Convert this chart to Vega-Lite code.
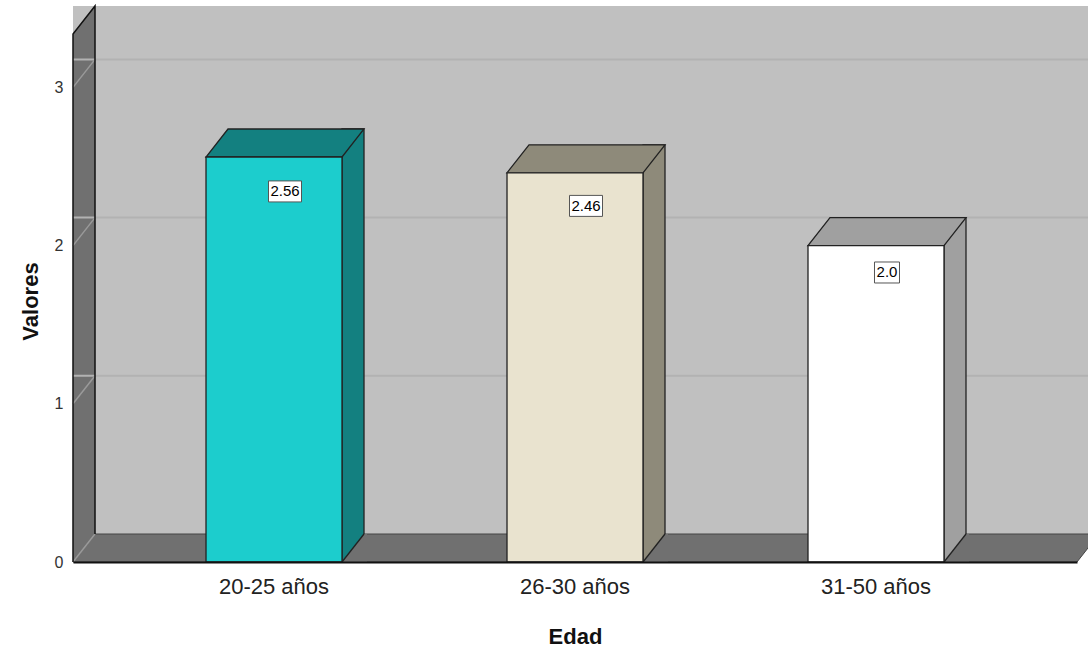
{
  "$schema": "https://vega.github.io/schema/vega-lite/v6.json",
  "width": 1004,
  "height": 528,
  "autosize": "none",
  "padding": {"left": 73, "top": 34, "right": 11, "bottom": 88},
  "background": "white",
  "config": {"view": {"stroke": null}, "font": "Liberation Sans"},
  "datasets": {
    "bars": [
      {"Edad": "20-25 años", "valor": 2.56, "etiqueta": "2.56"},
      {"Edad": "26-30 años", "valor": 2.46, "etiqueta": "2.46"},
      {"Edad": "31-50 años", "valor": 2.0, "etiqueta": "2.0"}
    ],
    "grid": [{"g": 0}, {"g": 1}, {"g": 2}, {"g": 3}]
  },
  "resolve": {"scale": {"y": "independent"}},
  "layer": [
    {
      "layer": [
        {
          "data": {"values": [{}]},
          "mark": {"type": "rect", "fill": "#c0c0c0", "xOffset": 22, "x2Offset": 22, "yOffset": -28, "y2Offset": -28},
          "encoding": {
            "y": {"datum": 0, "type": "quantitative"},
            "y2": {"datum": 3.3375}
          }
        },
        {
          "data": {"values": [{}]},
          "mark": {"type": "point", "shape": "M-502,0 L-480,-28 L524,-28 L502,0 Z", "size": 4, "filled": true, "fill": "#707070", "stroke": "#444444", "strokeWidth": 1, "opacity": 1},
          "encoding": {"y": {"datum": 0, "type": "quantitative"}}
        },
        {
          "data": {"values": [{}]},
          "mark": {"type": "point", "shape": "M-502,0 L-502,-528 L-480,-556 L-480,-28 Z", "size": 4, "filled": true, "fill": "#707070", "strokeWidth": 0, "opacity": 1},
          "encoding": {"y": {"datum": 0, "type": "quantitative"}}
        },
        {
          "data": {"name": "grid"},
          "transform": [{"filter": "datum.g > 0"}],
          "mark": {"type": "rule", "color": "#b2b2b2", "strokeWidth": 2, "xOffset": 22, "x2Offset": 22, "yOffset": -28},
          "encoding": {"y": {"field": "g", "type": "quantitative"}}
        },
        {
          "data": {"name": "grid"},
          "mark": {"type": "point", "shape": "M-502,0 L-480,-28", "size": 4, "filled": false, "stroke": "#9a9a9a", "strokeWidth": 1.5, "opacity": 1},
          "encoding": {"y": {"field": "g", "type": "quantitative"}}
        },
        {
          "data": {"values": [{}]},
          "mark": {"type": "point", "shape": "M-502,0 L-502,-528 L-480,-556 L-480,-28", "size": 4, "filled": false, "stroke": "#111111", "strokeWidth": 1.5, "opacity": 1},
          "encoding": {"y": {"datum": 0, "type": "quantitative"}}
        },
        {
          "data": {"name": "bars"},
          "mark": {"type": "bar", "width": 22, "xOffset": 79, "yOffset": -28, "stroke": "#222222", "strokeWidth": 1.3},
          "encoding": {
            "x": {"field": "Edad", "type": "nominal"},
            "y": {"field": "valor", "type": "quantitative"},
            "y2": {"datum": 0},
            "fill": {"field": "Edad", "type": "nominal", "scale": {"range": ["#138080", "#8e8a7a", "#a0a0a0"]}, "legend": null}
          }
        },
        {
          "data": {"name": "bars"},
          "mark": {"type": "point", "shape": "M68,0 L93,0 L93,-28 L90,-28 Z", "size": 4, "filled": true, "fill": "#707070", "strokeWidth": 0, "opacity": 1},
          "encoding": {
            "x": {"field": "Edad", "type": "nominal"},
            "y": {"datum": 0, "type": "quantitative"}
          }
        },
        {
          "data": {"name": "bars"},
          "mark": {"type": "point", "shape": "M68,0 L90,-28", "size": 4, "filled": false, "stroke": "#222222", "strokeWidth": 1.3, "opacity": 1},
          "encoding": {
            "x": {"field": "Edad", "type": "nominal"},
            "y": {"datum": 0, "type": "quantitative"}
          }
        },
        {
          "data": {"name": "bars"},
          "mark": {"type": "point", "shape": "M-68,0 L68,0 L90,-28 L-46,-28 Z", "size": 4, "filled": true, "stroke": "#222222", "strokeWidth": 1.3, "opacity": 1},
          "encoding": {
            "x": {"field": "Edad", "type": "nominal"},
            "y": {"field": "valor", "type": "quantitative"},
            "fill": {"field": "Edad", "type": "nominal", "legend": null}
          }
        },
        {
          "data": {"name": "bars"},
          "mark": {"type": "bar", "stroke": "#222222", "strokeWidth": 1.3},
          "encoding": {
            "x": {
              "field": "Edad", "type": "nominal", "title": "Edad",
              "scale": {"paddingInner": 0.5482, "paddingOuter": 0.4419},
              "axis": {
                "labelAngle": 0, "labelAlign": "center", "labelBaseline": "top", "labelFontSize": 22, "labelColor": "#222222", "ticks": false,
                "domain": true, "domainColor": "#111111", "domainWidth": 2, "labelPadding": 14,
                "titleFontSize": 22, "titleFontWeight": "bold", "titleColor": "#111111",
                "titleBaseline": "alphabetic", "titleY": 81, "zindex": 1
              }
            },
            "y": {
              "field": "valor", "type": "quantitative", "title": "Valores",
              "scale": {"domain": [0, 3.3375], "nice": false, "zero": true},
              "axis": {
                "values": [0, 1, 2, 3], "format": "d", "grid": false, "ticks": false, "domain": false,
                "labelFontSize": 16, "labelColor": "#333333", "labelPadding": 10,
                "titleFontSize": 22, "titleFontWeight": "bold", "titleColor": "#111111",
                "titleBaseline": "alphabetic", "titleX": -36, "titleY": 267
              }
            },
            "y2": {"datum": 0},
            "color": {"field": "Edad", "type": "nominal", "scale": {"range": ["#1ccdcd", "#e9e3cf", "#ffffff"]}, "legend": null}
          }
        }
      ]
    },
    {
      "data": {"name": "bars"},
      "encoding": {
        "x": {"field": "Edad", "type": "nominal"},
        "y": {"field": "valor", "type": "quantitative", "scale": {"domain": [0, 3.6475], "nice": false, "zero": true}, "axis": null}
      },
      "layer": [
        {
          "mark": {"type": "bar", "fill": "white", "stroke": "#555555", "strokeWidth": 1, "xOffset": 11, "yOffset": -10.5, "y2Offset": 10.5},
          "encoding": {
            "y2": {"field": "valor"},
            "size": {"condition": {"test": "datum.etiqueta == '2.0'", "value": 25}, "value": 33}
          }
        },
        {
          "mark": {"type": "text", "xOffset": 11, "fontSize": 15, "color": "#000000", "baseline": "middle", "align": "center"},
          "encoding": {"text": {"field": "etiqueta"}}
        }
      ]
    }
  ]
}
